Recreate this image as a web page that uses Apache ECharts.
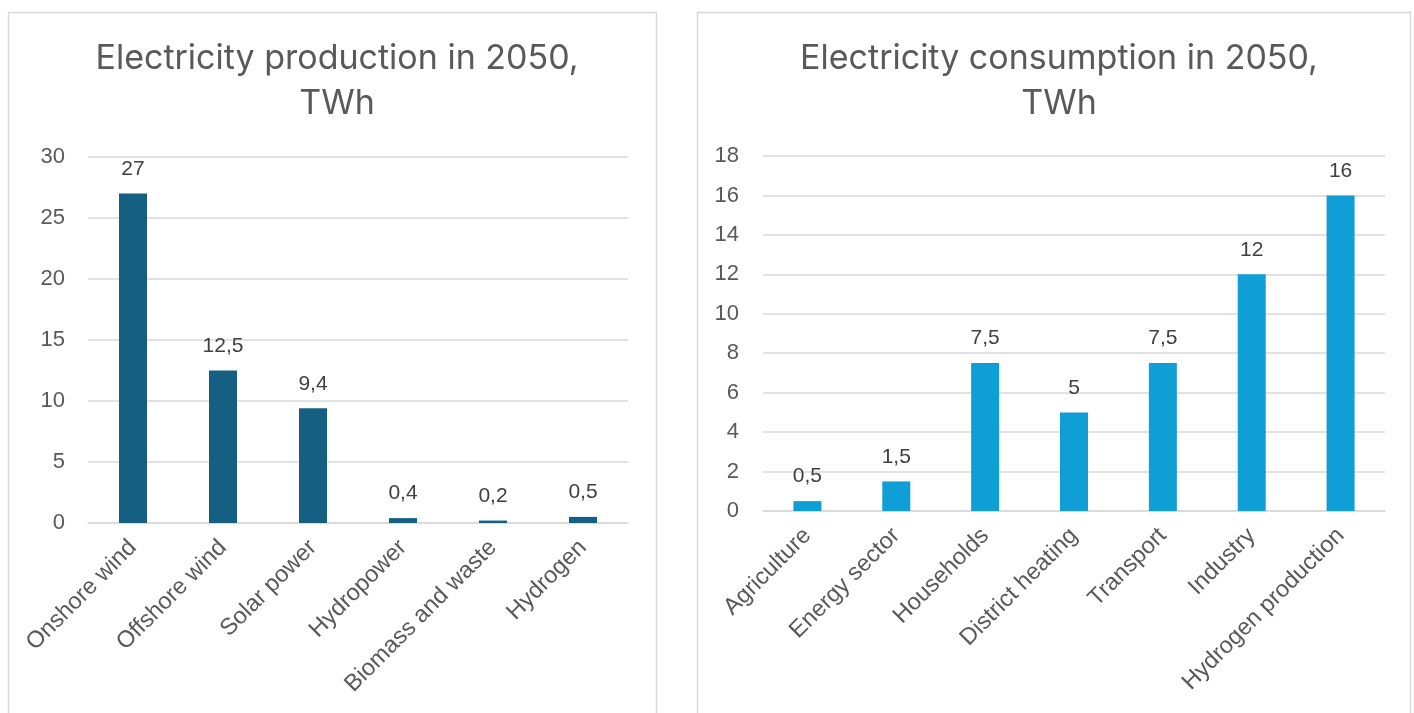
<!DOCTYPE html>
<html>
<head>
<meta charset="utf-8">
<script src="https://cdn.jsdelivr.net/npm/echarts@6/dist/echarts.min.js"></script>
<style>
html,body{margin:0;padding:0;background:#fff;}
#chart{width:1414px;height:713px;}
</style>
</head>
<body>
<div id="chart"></div>
<script>
const prodCategories = ['Onshore wind','Offshore wind','Solar power','Hydropower','Biomass and waste','Hydrogen'];
const prodValues = [27, 12.5, 9.4, 0.4, 0.2, 0.5];
const consCategories = ['Agriculture','Energy sector','Households','District heating','Transport','Industry','Hydrogen production'];
const consValues = [0.5, 1.5, 7.5, 5, 7.5, 12, 16];
const prodTitle = 'Electricity production in 2050,\nTWh';
const consTitle = 'Electricity consumption in 2050,\nTWh';

const TFONT = 'Inter, "Noto Sans", sans-serif';
const FONT = '"Liberation Sans", Arial, sans-serif';
const TXT = '#595959';
const fmt = v => String(v).replace('.', ',');

const chart = echarts.init(document.getElementById('chart'));
chart.setOption({
  animation: false,
  backgroundColor: '#fff',
  textStyle: { fontFamily: FONT },
  graphic: [
    { type: 'rect', shape: { x: 8.5, y: 12.5, width: 648, height: 720 }, style: { fill: 'none', stroke: '#D9D9D9', lineWidth: 1.5 } },
    { type: 'rect', shape: { x: 697.5, y: 12.5, width: 713, height: 720 }, style: { fill: 'none', stroke: '#D9D9D9', lineWidth: 1.5 } }
  ],
  title: [
    { text: prodTitle, left: 332, top: 31, textAlign: 'center',
      textStyle: { fontFamily: TFONT, fontSize: 34, fontWeight: 'normal', color: TXT, lineHeight: 45 } },
    { text: consTitle, left: 1054, top: 31, textAlign: 'center',
      textStyle: { fontFamily: TFONT, fontSize: 34, fontWeight: 'normal', color: TXT, lineHeight: 45 } }
  ],
  grid: [
    { left: 88, right: 1414 - 628, top: 157, bottom: 713 - 523 },
    { left: 763, right: 1414 - 1385, top: 156, bottom: 713 - 511 }
  ],
  xAxis: [
    { type: 'category', gridIndex: 0, data: prodCategories,
      axisLine: { lineStyle: { color: '#D9D9D9', width: 1.5 } }, axisTick: { show: false },
      axisLabel: { rotate: 45, interval: 0, color: TXT, fontSize: 23.5, fontFamily: FONT, margin: 21 } },
    { type: 'category', gridIndex: 1, data: consCategories,
      axisLine: { lineStyle: { color: '#D9D9D9', width: 1.5 } }, axisTick: { show: false },
      axisLabel: { rotate: 45, interval: 0, color: TXT, fontSize: 23.5, fontFamily: FONT, margin: 21 } }
  ],
  yAxis: [
    { type: 'value', gridIndex: 0, min: 0, max: 30, interval: 5,
      axisLine: { show: false }, axisTick: { show: false },
      splitLine: { lineStyle: { color: '#D9D9D9', width: 1.5 } },
      axisLabel: { color: TXT, fontSize: 22, fontFamily: FONT, margin: 23 } },
    { type: 'value', gridIndex: 1, min: 0, max: 18, interval: 2,
      axisLine: { show: false }, axisTick: { show: false },
      splitLine: { lineStyle: { color: '#D9D9D9', width: 1.5 } },
      axisLabel: { color: TXT, fontSize: 22, fontFamily: FONT, margin: 24 } }
  ],
  series: [
    { type: 'bar', xAxisIndex: 0, yAxisIndex: 0, data: prodValues, barWidth: 28,
      itemStyle: { color: '#156082' },
      label: { show: true, position: 'top', distance: 14, color: '#404040', fontSize: 21, fontFamily: FONT, formatter: p => fmt(p.value) } },
    { type: 'bar', xAxisIndex: 1, yAxisIndex: 1, data: consValues, barWidth: 28,
      itemStyle: { color: '#0F9ED5' },
      label: { show: true, position: 'top', distance: 14, color: '#404040', fontSize: 21, fontFamily: FONT, formatter: p => fmt(p.value) } }
  ]
});
</script>
</body>
</html>
